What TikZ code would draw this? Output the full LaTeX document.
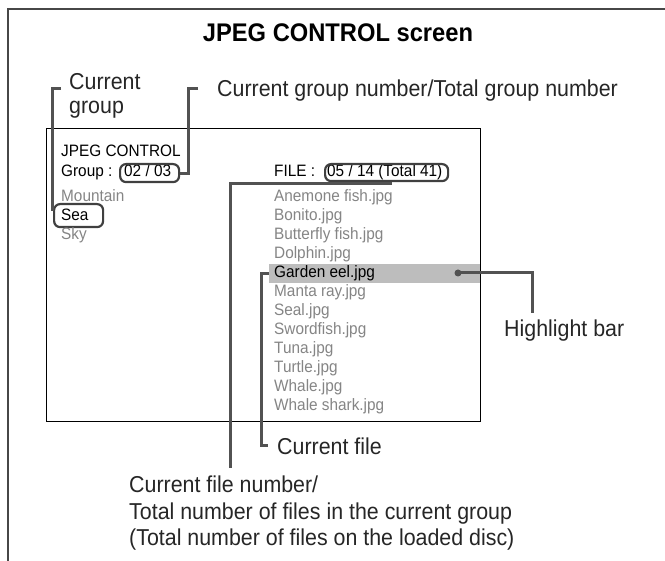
\documentclass[tikz,border=0pt]{standalone}
\usepackage{fontspec}
\setmainfont{Liberation Sans}[FakeStretch=0.93]
\usetikzlibrary{calc}
\begin{document}
\begin{tikzpicture}[x=1pt,y=-1pt,
  lead/.style={draw=black!68, line width=3pt},
  scr/.style={font=\fontsize{16.5}{19}\selectfont, inner sep=0pt, anchor=base west},
  grey/.style={scr, text=black!48},
  lbl/.style={font=\fontsize{23}{26}\selectfont, inner sep=0pt, anchor=base west, text=black!85},
  oval/.style={draw=black!75, line width=2.2pt, rounded corners=6pt, inner sep=0pt, anchor=north west}]
\useasboundingbox (0,0) rectangle (665,561);
\fill[white] (0,0) rectangle (665,561);
% outer frame
\draw[black!72, line width=1.8pt] (665,9) -- (8,9) -- (8,561);
\node[font=\bfseries\fontsize{25.5}{28}\selectfont, inner sep=0pt, anchor=base] (title) at (338,42) {JPEG CONTROL screen};
% screen
\node[draw, line width=1.4pt, minimum width=434pt, minimum height=293pt, inner sep=0pt, anchor=north west] (screen) at (46,128) {};
\node[fill=black!26, minimum width=211pt, minimum height=19pt, inner sep=0pt, anchor=north west] (hbar) at (269,263.5) {};
% left column
\node[scr] (jc) at (61,156.5) {JPEG CONTROL};
\node[scr] (grp) at (61,177) {Group :};
\node[scr] (gnum) at (124,177) {02 / 03};
\node[oval, minimum width=59pt, minimum height=18pt] (gbox) at (119,163) {};
\node[grey] (mountain) at (61,201.5) {Mountain};
\node[scr] (sea) at (61,220.5) {Sea};
\node[oval, minimum width=49pt, minimum height=23pt] (seabox) at (53,203) {};
\node[grey] (sky) at (61,239.5) {Sky};
% right column
\node[scr] (file) at (274,177) {FILE :};
\node[scr] (fnum) at (327,177) {05 / 14 (Total 41)};
\node[oval, minimum width=123pt, minimum height=17pt] (fbox) at (324,163) {};
\node[grey] (f1) at (274,202) {Anemone fish.jpg};
\node[grey] (f2) at (274,221) {Bonito.jpg};
\node[grey] (f3) at (274,240) {Butterfly fish.jpg};
\node[grey] (f4) at (274,259) {Dolphin.jpg};
\node[scr] (f5) at (274,278) {Garden eel.jpg};
\node[grey] (f6) at (274,297) {Manta ray.jpg};
\node[grey] (f7) at (274,316) {Seal.jpg};
\node[grey] (f8) at (274,335) {Swordfish.jpg};
\node[grey] (f9) at (274,354) {Tuna.jpg};
\node[grey] (f10) at (274,373) {Turtle.jpg};
\node[grey] (f11) at (274,392) {Whale.jpg};
\node[grey] (f12) at (274,411) {Whale shark.jpg};
% labels
\node[lbl] (cg1) at (69,89.5) {Current};
\node[lbl] (cg2) at (69,114) {group};
\node[lbl] (cgn) at (217,97) {Current group number/Total group number};
\node[lbl] (hl) at (504,336.5) {Highlight bar};
\node[lbl] (cf) at (277,455) {Current file};
\node[lbl] (cfn1) at (129,492.7) {Current file number/};
\node[lbl] (cfn2) at (129,519.4) {Total number of files in the current group};
\node[lbl] (cfn3) at (129,546) {(Total number of files on the loaded disc)};
% leaders
\coordinate (cgtick) at (61,89);
\coordinate (cgntick) at (198,89);
\coordinate (hldot) at (458,273);
\coordinate (hlend) at (532,313);
\coordinate (cfnend) at (230,468);
\coordinate (cfend) at (268,446);
\draw[lead] (cgtick) -| ($(seabox.north west)+(-1,8)$);
\draw[lead] (cgntick) -- (188,89) |- (gbox.east);
\draw[lead] (fbox.south -| 390,0) -- (390,184) -| (cfnend);
\draw[lead] (hbar.west) -- ++(-8,0) |- (cfend);
\fill[black!68] (hldot) circle (3.5pt);
\draw[lead] (hldot) -| (hlend);
\end{tikzpicture}
\end{document}
